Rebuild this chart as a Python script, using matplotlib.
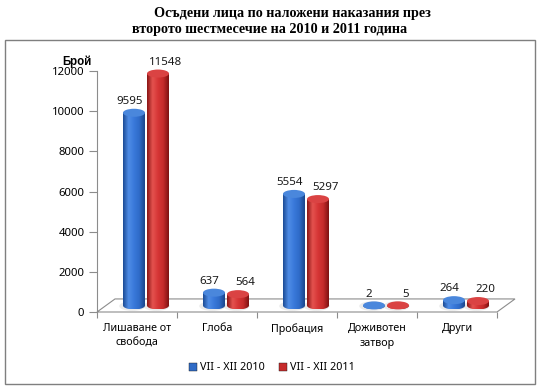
import numpy as np
import matplotlib.pyplot as plt
from matplotlib.patches import Ellipse, Polygon, Rectangle, PathPatch, Patch
from matplotlib.path import Path
from matplotlib.colors import LinearSegmentedColormap

# Data
categories = ['Лишаване от\nсвобода', 'Глоба', 'Пробация', 'Доживотен\nзатвор', 'Други']
series_names = ['VII - XII 2010', 'VII - XII 2011']
values_2010 = [9595, 637, 5554, 2, 264]
values_2011 = [11548, 564, 5297, 5, 220]
y_ticks = [0, 2000, 4000, 6000, 8000, 10000, 12000]

title_1 = 'Осъдени лица по наложени наказания през'
title_2 = 'второто шестмесечие на 2010 и 2011 година'

sans = ['Noto Sans', 'DejaVu Sans']
serif = ['Liberation Serif', 'DejaVu Serif']

# 3D look (in data units)
depth_x = 0.225      # floor depth along x (category units)
depth_y = 650        # floor depth along y (value units)
bar_w = 0.275
bar_off = 0.15
ell_h = 400          # ellipse height in value units
label_dx = [-0.06, 0.09]

cmaps = [
    LinearSegmentedColormap.from_list('b', ['#1c4c96', '#4f8de6', '#3a79da', '#2f6bc8', '#1a468c']),
    LinearSegmentedColormap.from_list('r', ['#8a1515', '#e4524f', '#d63636', '#c42a2a', '#7e1212']),
]
top_colors = ['#4a87dc', '#da4343']
legend_colors = ['#2f6bc6', '#c62b2b']

fig = plt.figure(figsize=(5.42, 3.89), dpi=100)
W, H = 542, 389
ax = fig.add_axes([97 / W, 1 - 312 / H, 400 / W, 241 / H])

# chart border
fig.add_artist(Rectangle((5 / W, 1 - 384 / H), 530 / W, 344 / H, transform=fig.transFigure,
                         fill=False, edgecolor='#7f7f7f', lw=1.0))

# titles
fig.text(292 / W, 1 - 13 / H, title_1, ha='center', va='center', family=serif,
         fontweight='bold', fontsize=10.2)
fig.text(270 / W, 1 - 29 / H, title_2, ha='center', va='center', family=serif,
         fontweight='bold', fontsize=10.2)

# floor
n = len(categories)
floor = Polygon([(-0.5, 0), (n - 0.5, 0), (n - 0.5 + depth_x, depth_y), (-0.5 + depth_x, depth_y)],
                closed=True, facecolor='white', edgecolor='#8c8c8c', lw=0.8, clip_on=False, zorder=1)
ax.add_patch(floor)

base = depth_y / 2
x = np.arange(n)


def cylinder(xc, v, k):
    x0, x1 = xc - bar_w / 2, xc + bar_w / 2
    top = base + v
    t = np.linspace(np.pi, 2 * np.pi, 30)
    arc = np.column_stack([xc + bar_w / 2 * np.cos(t), base + ell_h / 2 * np.sin(t)])
    verts = np.vstack([[(x0, top)], arc, [(x1, top)], [(x0, top)]])
    codes = [Path.MOVETO] + [Path.LINETO] * (len(verts) - 2) + [Path.CLOSEPOLY]
    body = PathPatch(Path(verts, codes), facecolor='none', edgecolor='none', clip_on=False)
    ax.add_patch(body)
    # soft shadow on the floor
    ax.add_patch(Ellipse((xc - 0.02, base - 30), bar_w * 1.2, ell_h * 1.2, facecolor='#c8c8c8',
                         edgecolor='none', alpha=0.35, clip_on=False, zorder=2))
    grad = np.linspace(0, 1, 64).reshape(1, -1)
    im = ax.imshow(grad, cmap=cmaps[k], extent=(x0, x1, base - ell_h / 2, top), aspect='auto',
                   zorder=3, interpolation='bilinear')
    im.set_clip_path(body)
    ax.add_patch(Ellipse((xc, top), bar_w, ell_h, facecolor=top_colors[k], edgecolor='none',
                         clip_on=False, zorder=4))
    ax.text(xc + label_dx[k], top + 560, f'{v}', ha='center', va='center', fontsize=8.3,
            family=sans, color='#1a1a1a', zorder=5)


for i in range(n):
    cylinder(x[i] + depth_x / 2 - bar_off, values_2010[i], 0)
    cylinder(x[i] + depth_x / 2 + bar_off, values_2011[i], 1)

ax.set_xlim(-0.5, n - 0.5)
ax.set_ylim(0, 12000)

# axes styling
for s in ['top', 'right', 'bottom']:
    ax.spines[s].set_visible(False)
ax.spines['left'].set_color('#8c8c8c')
ax.spines['left'].set_linewidth(0.8)
ax.patch.set_alpha(0)

ax.set_yticks(y_ticks)
ax.set_yticklabels([str(t) for t in y_ticks], family=sans, fontsize=8.2)
ax.tick_params(axis='y', length=6, width=0.8, color='#8c8c8c', pad=3)

ax.set_xticks(x)
ax.set_xticklabels(categories, family=sans, fontsize=7.7, linespacing=1.5)
ax.set_xticks(np.arange(n + 1) - 0.5, minor=True)
ax.tick_params(axis='x', which='major', length=0, pad=8)
ax.tick_params(axis='x', which='minor', length=4, width=0.8, color='#8c8c8c')

fig.text(77 / W, 1 - 62 / H, 'Брой', ha='center', va='center', family=['Liberation Sans'],
         fontsize=8.3, fontweight='bold')

handles = [Patch(facecolor=c, edgecolor='#1a1a1a', lw=0.3) for c in legend_colors]
fig.legend(handles, series_names, loc='center', bbox_to_anchor=(272 / W, 1 - 368 / H), ncol=2,
           frameon=False, handlelength=0.7, handleheight=0.7, handletextpad=0.3, columnspacing=1.3,
           prop={'family': sans, 'size': 7.8})

fig.savefig('out.png', dpi=100)
